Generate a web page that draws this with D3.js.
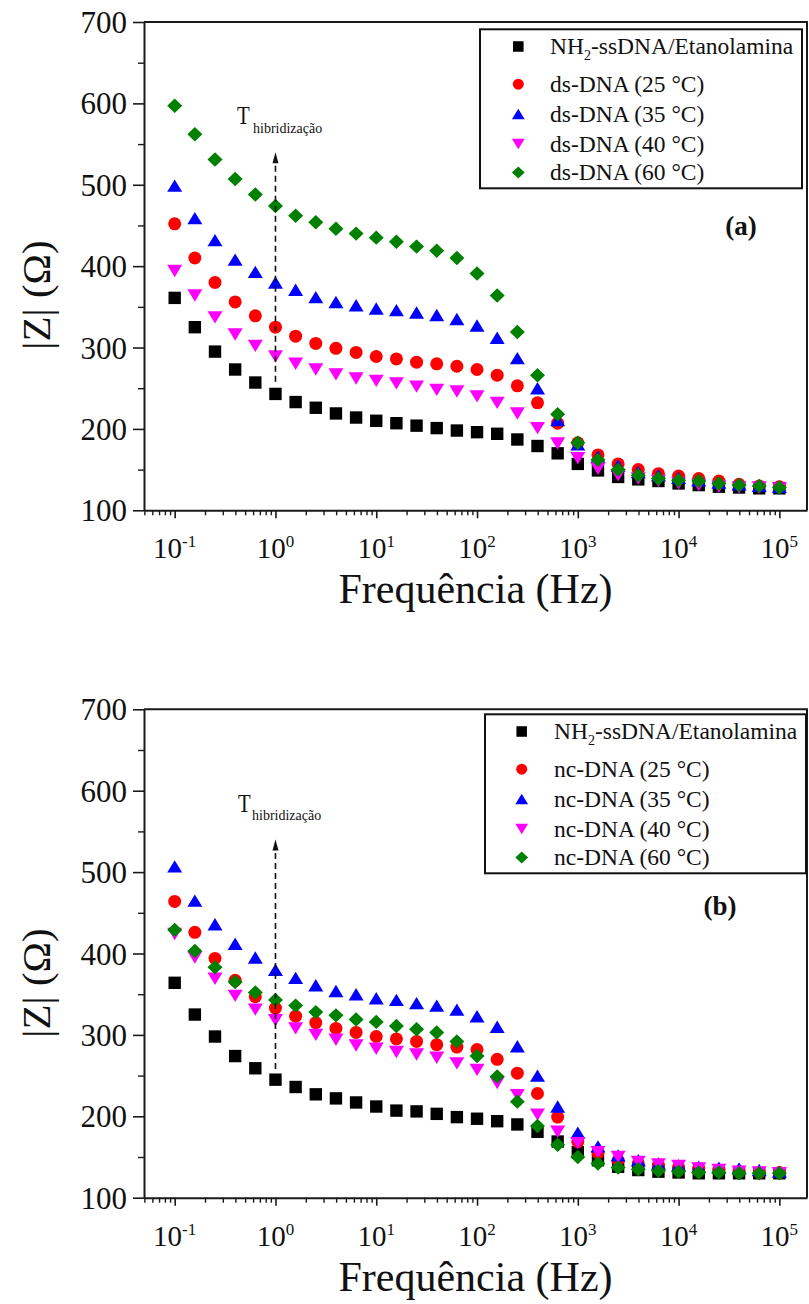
<!DOCTYPE html>
<html>
<head>
<meta charset="utf-8">
<script src="https://cdn.jsdelivr.net/npm/d3@7"></script>
<style>
  body { margin: 0; background: #fff; }
  svg { display: block; }
  text { font-family: "Liberation Serif", "Times New Roman", serif; fill: #111; }
</style>
</head>
<body>
<svg id="chart" width="809" height="1304"></svg>
<script>
// Frequency sweep (Hz), 5 points per decade
const freqHz = [0.1, 0.1585, 0.2512, 0.3981, 0.631, 1, 1.585, 2.512, 3.981, 6.31,
  10, 15.85, 25.12, 39.81, 63.1, 100, 158.5, 251.2, 398.1, 631,
  1000, 1585, 2512, 3981, 6310, 10000, 15850, 25120, 39810, 63100, 100000];

// |Z| (Ohm) — panel (a): complementary target (ds-DNA)
const aSsDNA = [361, 325, 295, 273, 257, 243, 233, 226, 219, 214, 210, 207, 204, 201, 198, 196, 194, 187, 179, 170, 157, 149, 141, 138, 136, 133, 131, 129, 128, 127, 127];
const aDs25 = [452, 410, 380, 356, 339, 325, 314, 305, 299, 294, 289, 286, 282, 280, 277, 273, 266, 253, 232, 207, 183, 168, 157, 150, 145, 142, 139, 136, 132, 130, 129];
const aDs35 = [499, 459, 432, 408, 393, 380, 371, 362, 356, 352, 348, 346, 343, 340, 335, 327, 312, 287, 250, 211, 181, 166, 155, 147, 143, 140, 137, 134, 132, 130, 129];
const aDs40 = [394, 364, 337, 316, 302, 289, 280, 273, 267, 262, 259, 256, 252, 248, 246, 240, 232, 219, 201, 182, 164, 151, 143, 139, 136, 133, 131, 129, 128, 128, 127];
const aDs60 = [597, 562, 531, 507, 488, 474, 462, 454, 446, 440, 435, 430, 424, 419, 410, 391, 364, 319, 266, 218, 183, 162, 150, 143, 139, 137, 136, 133, 131, 130, 128];

// |Z| (Ohm) — panel (b): non-complementary target (nc-DNA)
const bSsDNA = [364, 325, 298, 274, 259, 245, 236, 227, 222, 217, 212, 207, 206, 203, 199, 197, 194, 190, 181, 169, 156, 146, 138, 134, 132, 131, 130, 130, 130, 130, 130];
const bNc25 = [464, 426, 394, 367, 347, 333, 323, 315, 308, 303, 298, 295, 292, 288, 285, 282, 270, 253, 228, 199, 169, 155, 146, 142, 140, 138, 136, 134, 132, 131, 131];
const bNc35 = [507, 465, 436, 412, 395, 380, 370, 361, 354, 350, 345, 343, 339, 336, 331, 323, 310, 286, 250, 212, 180, 163, 152, 146, 142, 140, 138, 137, 136, 134, 132];
const bNc40 = [424, 395, 369, 348, 331, 318, 308, 300, 294, 287, 283, 279, 276, 272, 265, 257, 241, 226, 202, 181, 167, 156, 150, 144, 141, 139, 136, 134, 132, 131, 130];
const bNc60 = [429, 403, 383, 365, 352, 343, 336, 328, 324, 319, 316, 311, 307, 303, 292, 274, 249, 218, 188, 165, 150, 142, 137, 135, 133, 132, 131, 131, 130, 130, 130];

// Legend labels
const aLabels = ["ds-DNA (25 °C)", "ds-DNA (35 °C)", "ds-DNA (40 °C)", "ds-DNA (60 °C)"];
const bLabels = ["nc-DNA (25 °C)", "nc-DNA (35 °C)", "nc-DNA (40 °C)", "nc-DNA (60 °C)"];

// Axis ticks
const yMajor = [100, 200, 300, 400, 500, 600, 700];
const yMinor = [150, 250, 350, 450, 550, 650];
const xExponents = [-1, 0, 1, 2, 3, 4, 5];

// Hybridization marker: frequency and |Z| span of the dashed arrow
const arrowFreq = 1;
const arrowFrom = 258, arrowTo = 540;

// Styling per series
const colors = ["#000000", "#ff0000", "#0000ff", "#ff00ff", "#008000"];
const shapes = ["square", "circle", "triUp", "triDown", "diamond"];

function symbolPath(shape, k) {
  // k scales the marker (1 = plot marker)
  const p = d3.path();
  if (shape === "square") {
    const h = 6.2 * k; p.rect(-h, -h, 2 * h, 2 * h);
  } else if (shape === "circle") {
    const r = 6.5 * k; p.moveTo(r, 0); p.arc(0, 0, r, 0, 2 * Math.PI);
  } else if (shape === "triUp") {
    const w = 7.5 * k, h = 6.2 * k; p.moveTo(0, -h); p.lineTo(w, h); p.lineTo(-w, h); p.closePath();
  } else if (shape === "triDown") {
    const w = 7.5 * k, h = 6.2 * k; p.moveTo(0, h); p.lineTo(w, -h); p.lineTo(-w, -h); p.closePath();
  } else {
    const w = 7.5 * k, h = 7.2 * k; p.moveTo(0, -h); p.lineTo(w, 0); p.lineTo(0, h); p.lineTo(-w, 0); p.closePath();
  }
  return p.toString();
}

const svg = d3.select("#chart");
svg.append("rect").attr("width", 809).attr("height", 1304).attr("fill", "#fff");

const left = 144, right = 807;
const x = d3.scaleLog().domain([0.0496, 1.88e5]).range([left, right]);

const xMinor = [];
for (let e = -2; e <= 5; e++) {
  for (let m = 2; m <= 9; m++) {
    const v = m * Math.pow(10, e);
    if (v >= 0.0496 && v <= 1.88e5) xMinor.push(v);
  }
}

const panels = [
  { top: 22, bottom: 510.3, series: [aSsDNA, aDs25, aDs35, aDs40, aDs60], labels: aLabels,
    box: { x: 480, y: 29.3, w: 322, h: 159 }, markX: 518.3, textX: 550,
    tag: "(a)", tagX: 741, tagY: 235, tX: 237, tY: 124.3, subX: 253, subY: 133.3, titleY: 295 },
  { top: 709.3, bottom: 1197.7, series: [bSsDNA, bNc25, bNc35, bNc40, bNc60], labels: bLabels,
    box: { x: 485, y: 714.3, w: 321, h: 159 }, markX: 521.7, textX: 554,
    tag: "(b)", tagX: 720, tagY: 915, tX: 238, tY: 811.7, subX: 252, subY: 820, titleY: 983 }
];

panels.forEach(P => {
  const y = d3.scaleLinear().domain([100, 700]).range([P.bottom, P.top]);
  const g = svg.append("g");

  // frame: top and right borders
  g.append("path")
    .attr("d", `M${left},${P.top}H${right}V${P.bottom}`)
    .attr("fill", "none").attr("stroke", "#1a1a1a").attr("stroke-width", 2);

  // y axis
  const yAx = g.append("g").attr("transform", `translate(${left},0)`)
    .call(d3.axisLeft(y).tickValues(yMajor).tickSize(11).tickSizeOuter(0).tickPadding(6));
  yAx.select(".domain").attr("stroke", "#1a1a1a").attr("stroke-width", 2);
  yAx.selectAll(".tick line").attr("stroke", "#1a1a1a").attr("stroke-width", 1.6);
  yAx.selectAll(".tick text").attr("font-size", 31).attr("font-family", "Liberation Serif")
    .attr("fill", "#111").attr("dy", "0.34em");
  const yMin = g.append("g").attr("transform", `translate(${left},0)`)
    .call(d3.axisLeft(y).tickValues(yMinor).tickSize(6).tickSizeOuter(0).tickFormat(""));
  yMin.select(".domain").remove();
  yMin.selectAll(".tick line").attr("stroke", "#1a1a1a").attr("stroke-width", 1.4);

  // x axis
  const xAx = g.append("g").attr("transform", `translate(0,${P.bottom})`)
    .call(d3.axisBottom(x).tickValues(xExponents.map(e => Math.pow(10, e)))
      .tickSize(8).tickSizeOuter(0).tickFormat(""));
  xAx.select(".domain").attr("stroke", "#1a1a1a").attr("stroke-width", 2);
  xAx.selectAll(".tick line").attr("stroke", "#1a1a1a").attr("stroke-width", 1.6);
  const xMin = g.append("g").attr("transform", `translate(0,${P.bottom})`)
    .call(d3.axisBottom(x).tickValues(xMinor).tickSize(5).tickSizeOuter(0).tickFormat(""));
  xMin.select(".domain").remove();
  xMin.selectAll(".tick line").attr("stroke", "#1a1a1a").attr("stroke-width", 1.4);

  // x tick labels as powers of ten
  xExponents.forEach(e => {
    const t = g.append("text").attr("x", x(Math.pow(10, e))).attr("y", P.bottom + 48)
      .attr("text-anchor", "middle").attr("font-size", 29);
    t.append("tspan").text("10");
    t.append("tspan").attr("font-size", 17).attr("dy", -11).text(String(e));
  });

  // axis titles
  g.append("text").attr("x", (left + right) / 2).attr("y", P.bottom + 93)
    .attr("text-anchor", "middle").attr("font-size", 42).text("Frequência (Hz)");
  g.append("text").attr("transform", `translate(50,${P.titleY}) rotate(-90)`)
    .attr("text-anchor", "middle").attr("font-size", 41).text("|Z| (Ω)");

  // data markers
  P.series.forEach((vals, i) => {
    g.append("g").selectAll("path").data(vals).join("path")
      .attr("transform", (v, j) => `translate(${x(freqHz[j])},${y(v)})`)
      .attr("d", symbolPath(shapes[i], 1))
      .attr("fill", colors[i]);
  });

  // hybridization arrow
  const ax = x(arrowFreq);
  g.append("line").attr("x1", ax).attr("x2", ax)
    .attr("y1", y(arrowFrom)).attr("y2", y(arrowTo) + 9)
    .attr("stroke", "#111").attr("stroke-width", 1.6).attr("stroke-dasharray", "6,4");
  g.append("path")
    .attr("d", `M${ax},${y(arrowTo)}L${ax + 3},${y(arrowTo) + 11}L${ax - 3},${y(arrowTo) + 11}Z`)
    .attr("fill", "#111");
  g.append("text").attr("transform", `translate(${P.tX},${P.tY}) scale(0.8,1)`)
    .attr("font-size", 26).text("T");
  g.append("text").attr("x", P.subX).attr("y", P.subY).attr("font-size", 14).text("hibridização");

  // panel tag
  g.append("text").attr("x", P.tagX).attr("y", P.tagY).attr("text-anchor", "middle")
    .attr("font-size", 27).attr("font-weight", "bold").text(P.tag);

  // legend
  const B = P.box;
  g.append("rect").attr("x", B.x).attr("y", B.y).attr("width", B.w).attr("height", B.h)
    .attr("fill", "#fff").attr("stroke", "#111").attr("stroke-width", 2);
  const baselines = [24.7, 62.4, 92.2, 122.2, 150.7];
  baselines.forEach((bl, i) => {
    g.append("path").attr("transform", `translate(${P.markX},${B.y + bl - 7.5})`)
      .attr("d", symbolPath(shapes[i], 0.85)).attr("fill", colors[i]);
    const t = g.append("text").attr("x", P.textX).attr("y", B.y + bl).attr("font-size", 23.5);
    if (i === 0) {
      t.append("tspan").text("NH");
      t.append("tspan").attr("font-size", 14).attr("dy", 6).text("2");
      t.append("tspan").attr("dy", -6).text("-ssDNA/Etanolamina");
    } else {
      t.text(P.labels[i - 1]);
    }
  });
});
</script>
</body>
</html>
